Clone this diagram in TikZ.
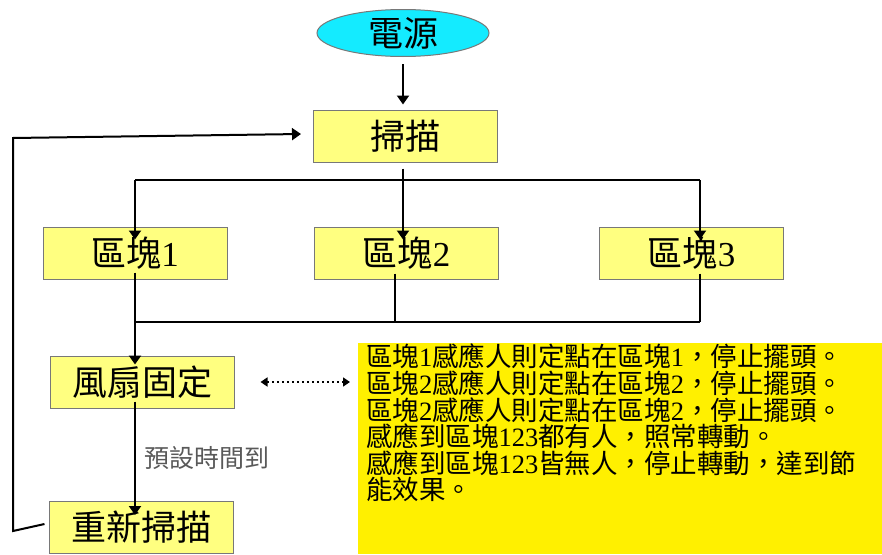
\documentclass[tikz,border=0pt]{standalone}
\usepackage{fontspec}
\setmainfont{Liberation Serif}
\newfontfamily\zhfont{Noto Sans CJK TC}
\newcommand{\zh}[1]{{\zhfont #1}}
\usetikzlibrary{arrows.meta,shapes.geometric}
\definecolor{boxyellow}{RGB}{255,255,128}
\definecolor{noteyellow}{RGB}{255,240,0}
\definecolor{cyanfill}{RGB}{20,235,255}
\definecolor{boxline}{RGB}{120,120,120}
\tikzset{
  box/.style={draw=boxline, line width=1pt, fill=boxyellow, minimum width=184pt,
    minimum height=52pt, inner sep=0pt, font=\fontsize{35}{38}\selectfont},
  arr/.style={-{Triangle[length=9pt,width=12pt]}, line width=2pt},
  ln/.style={line width=2pt},
}
\begin{document}
\begin{tikzpicture}[x=1pt,y=-1pt]
\useasboundingbox (0,0) rectangle (882,554);
\node[ellipse, draw=boxline, line width=1pt, fill=cyanfill, minimum width=172pt, minimum height=47pt,
  inner sep=0pt, font=\fontsize{35}{38}\selectfont] (power) at (403,33) {\zh{電源}};
\node[box] (scan) at (405.5,136) {\zh{掃描}};
\node[box] (b1) at (135,253) {\zh{區塊}1};
\node[box] (b2) at (406.5,253) {\zh{區塊}2};
\node[box] (b3) at (691.5,253) {\zh{區塊}3};
\node[box] (fan) at (142,382) {\zh{風扇固定}};
\node[box] (rescan) at (141,527.5) {\zh{重新掃描}};
\node[fill=noteyellow, anchor=north west, inner sep=0pt, minimum width=524pt, minimum height=211pt] (note) at (358,343) {};
\node[anchor=north west, inner sep=0pt, align=left, font=\fontsize{26.5}{26.6}\selectfont] (notetext) at (366,344)
{\zh{區塊}1\zh{感應人則定點在區塊}1\zh{，停止擺頭。}\\
\zh{區塊}2\zh{感應人則定點在區塊}2\zh{，停止擺頭。}\\
\zh{區塊}2\zh{感應人則定點在區塊}2\zh{，停止擺頭。}\\
\zh{感應到區塊}123\zh{都有人，照常轉動。}\\
\zh{感應到區塊}123\zh{皆無人，停止轉動，達到節}\\
\zh{能效果。}};
% power -> scan
\draw[arr, shorten <=7pt, shorten >=5pt] (power.south) -- (power.south |- scan.north);
% scan -> blocks
\draw[ln, shorten <=6pt] (power.south |- scan.south) -- (power.south |- 0,180) coordinate (j1);
\draw[arr] (j1) -- ([yshift=-13pt]b2.north -| j1);
\draw[ln] (b1.north |- j1) -- ([xshift=8.5pt]b3.north |- j1);
\draw[arr] (b1.north |- j1) -- ([yshift=-13pt]b1.north);
\draw[arr] ([xshift=8.5pt]b3.north |- j1) -- ([xshift=8.5pt,yshift=-13pt]b3.north);
% blocks -> fan
\coordinate (j2) at (135,322);
\draw[ln] ([xshift=-11.5pt,yshift=6pt]b2.south) -- ([xshift=-11.5pt]b2.south |- j2);
\draw[ln] ([xshift=8.5pt,yshift=6pt]b3.south) -- ([xshift=8.5pt]b3.south |- j2);
\draw[ln] (j2) -- ([xshift=8.5pt]b3.south |- j2);
\draw[arr] ([yshift=7pt]b1.south) -- ([yshift=-9pt]b1.south |- fan.north);
% dotted double arrow
\draw[{Triangle[length=7pt,width=9pt]}-{Triangle[length=7pt,width=9pt]}, line width=1.6pt,
  dash pattern=on 1.8pt off 3.2pt, shorten <=26pt, shorten >=8pt] (fan.east) -- (fan.east -| note.west);
% fan -> rescan
\draw[arr] ([xshift=-7pt,yshift=7pt]fan.south) -- ([xshift=-6pt,yshift=-14pt]rescan.north)
  node[midway, right=5pt, text=black!65, font=\zhfont\fontsize{25}{28}\selectfont] (lbl) {預設時間到};
% feedback loop
\coordinate (lb) at (13,531);
\coordinate (lt) at (13,138);
\draw[arr] ([xshift=-4pt,yshift=3.5pt]rescan.west) -- (lb) -- (lt) -- ([xshift=-12pt,yshift=2pt]scan.west);
\end{tikzpicture}
\end{document}
